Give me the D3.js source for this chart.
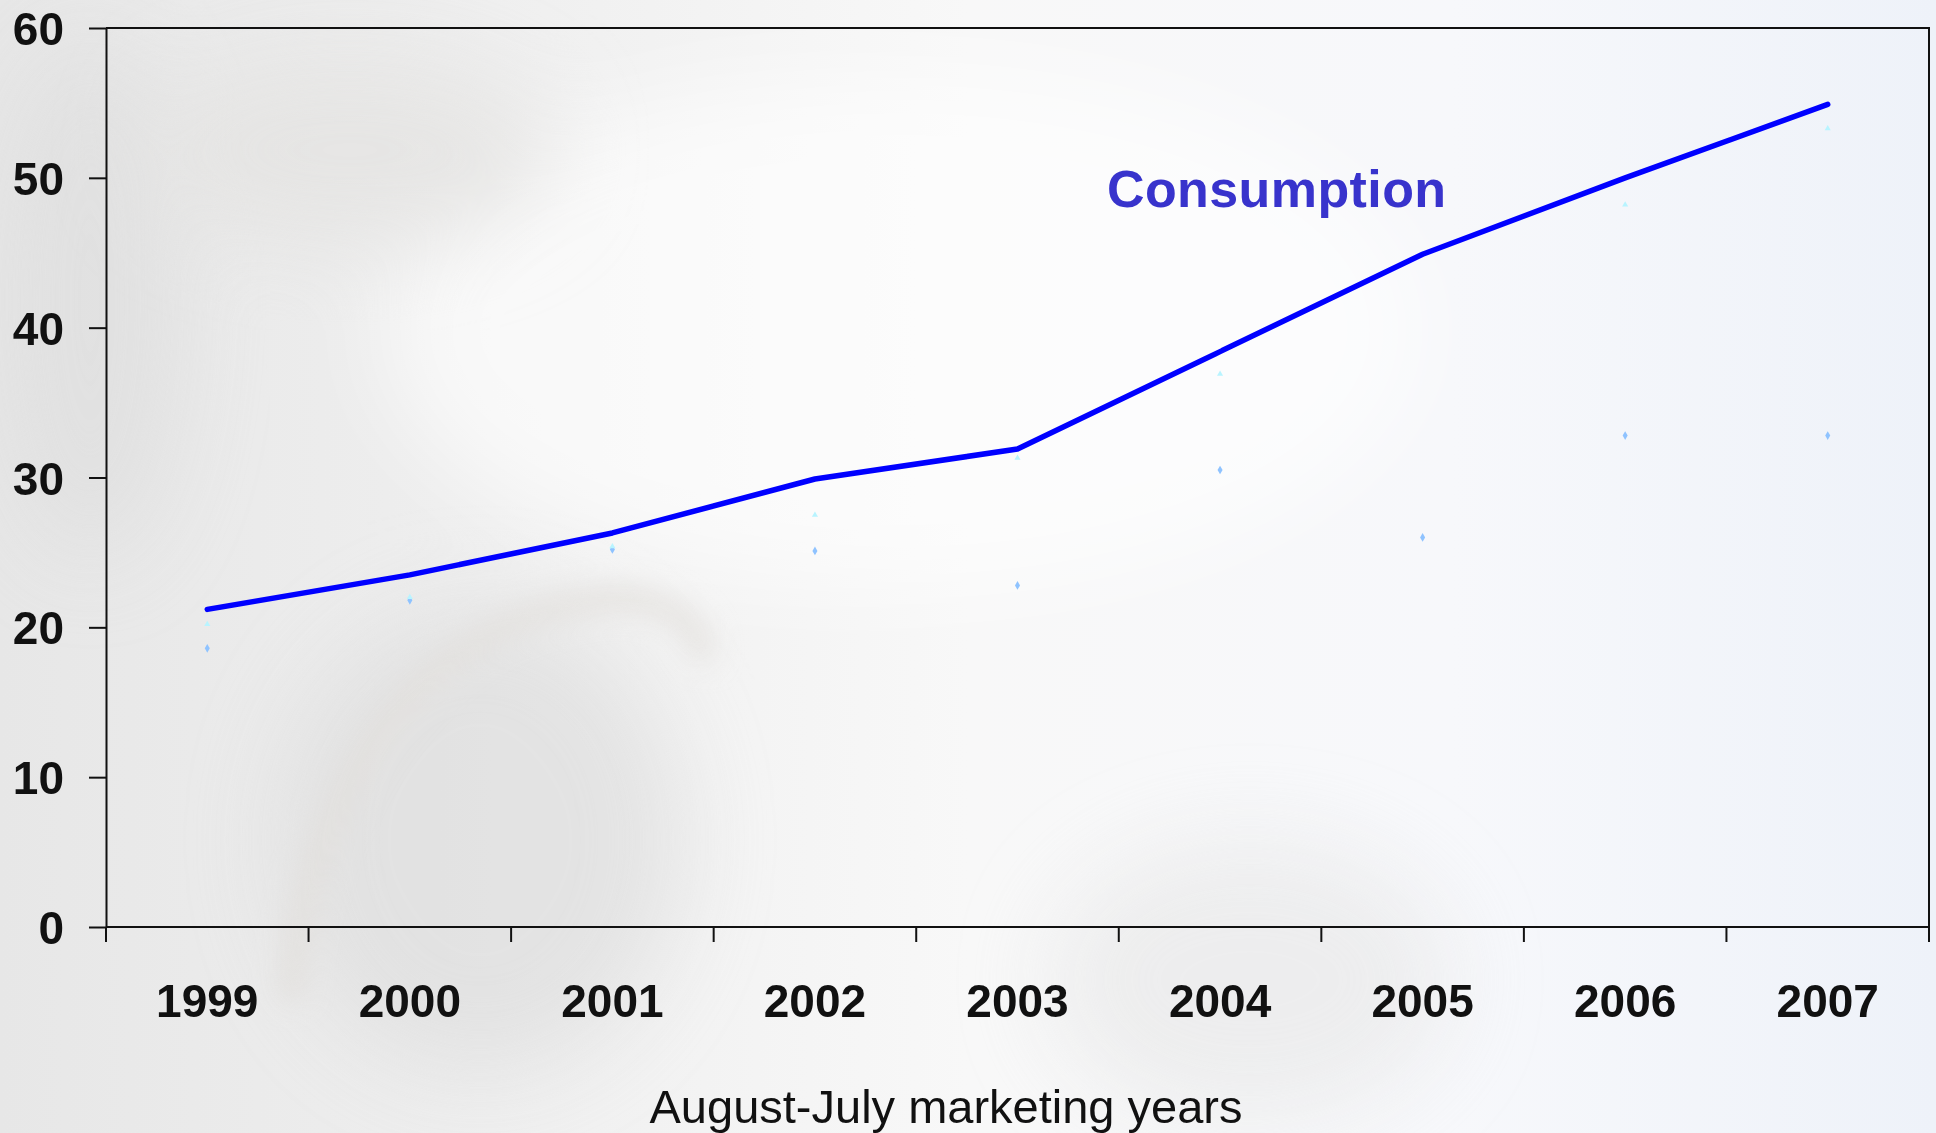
<!DOCTYPE html>
<html>
<head>
<meta charset="utf-8">
<script src="https://cdn.jsdelivr.net/npm/d3@7"></script>
<style>
    body { margin: 0; padding: 0; overflow: hidden; }
    text { font-family: "Liberation Sans", Arial, sans-serif; }
</style>
</head>
<body>
<div id="main"></div>
<script>
const years = ["1999", "2000", "2001", "2002", "2003", "2004", "2005", "2006", "2007"];
// million bales
const consumption = [21.2, 23.5, 26.3, 29.9, 31.9, 38.4, 44.9, 50.0, 54.9];
// faint marker-only series
const diamondSeries = [18.6, 21.8, 25.2, 25.1, 22.8, 30.5, 26.0, 32.8, 32.8];
const triangleSeries = [20.2, 22.0, 25.4, 27.5, 31.3, 36.9, 44.9, 48.2, 53.3];
const yTicks = [0, 10, 20, 30, 40, 50, 60];

const ctx = {
    w: 1936,
    h: 1133,
    left: 106,
    right: 1929,
    top: 28,
    bottom: 927,
    LINE_COLOR: "#0000ff",
    LABEL_COLOR: "#3833cc",
};

function drawBackground(svgEl) {
    let defs = svgEl.append("defs");
    let grad = defs.append("linearGradient")
        .attr("id", "bgGrad")
        .attr("x1", 0).attr("x2", 1).attr("y1", 0).attr("y2", 0);
    grad.append("stop").attr("offset", 0).attr("stop-color", "#e7e7e7");
    grad.append("stop").attr("offset", 0.2).attr("stop-color", "#ededed");
    grad.append("stop").attr("offset", 0.5).attr("stop-color", "#f8f8f8");
    grad.append("stop").attr("offset", 0.75).attr("stop-color", "#f7f8fb");
    grad.append("stop").attr("offset", 1).attr("stop-color", "#eef2f9");
    defs.append("filter").attr("id", "blur")
        .attr("x", "-50%").attr("y", "-50%").attr("width", "200%").attr("height", "200%")
        .append("feGaussianBlur").attr("stdDeviation", 45);
    defs.append("filter").attr("id", "blurSmall")
        .attr("x", "-50%").attr("y", "-50%").attr("width", "200%").attr("height", "200%")
        .append("feGaussianBlur").attr("stdDeviation", 14);

    svgEl.append("rect")
        .attr("width", ctx.w).attr("height", ctx.h)
        .attr("fill", "url(#bgGrad)");

    // faded photo shapes behind the chart
    let bg = svgEl.append("g").attr("id", "photo").attr("opacity", 0.6);
    bg.append("ellipse")
        .attr("cx", 900).attr("cy", 330).attr("rx", 520).attr("ry", 260)
        .attr("fill", "#ffffff").attr("filter", "url(#blur)");
    bg.append("ellipse")
        .attr("cx", 480).attr("cy", 840).attr("rx", 200).attr("ry", 230)
        .attr("fill", "#dadada").attr("filter", "url(#blur)");
    bg.append("ellipse")
        .attr("cx", 90).attr("cy", 300).attr("rx", 90).attr("ry", 260)
        .attr("fill", "#dcdcdc").attr("filter", "url(#blur)");
    bg.append("ellipse")
        .attr("cx", 350).attr("cy", 150).attr("rx", 200).attr("ry", 90)
        .attr("fill", "#e2e1df").attr("filter", "url(#blur)");
    bg.append("ellipse")
        .attr("cx", 1250).attr("cy", 980).attr("rx", 200).attr("ry", 140)
        .attr("fill", "#e6e6e6").attr("filter", "url(#blur)");
    bg.append("path")
        .attr("d", "M290,1000 C310,770 430,620 600,600 C680,592 710,640 700,660")
        .attr("fill", "none").attr("stroke", "#dcd8d3").attr("stroke-width", 22)
        .attr("filter", "url(#blurSmall)");
}

function createChart(svgEl) {
    let x = d3.scaleBand().domain(years).range([ctx.left, ctx.right]);
    let y = d3.scaleLinear().domain([0, 60]).range([ctx.bottom, ctx.top]);
    let cx = (d) => x(d) + x.bandwidth() / 2;

    // plot frame (top and right)
    svgEl.append("path")
        .attr("d", `M${ctx.left},${ctx.top}H${ctx.right}V${ctx.bottom}`)
        .attr("fill", "none")
        .attr("stroke", "#111")
        .attr("stroke-width", 2);

    // y axis
    let yAxis = svgEl.append("g")
        .attr("transform", `translate(${ctx.left},0)`)
        .call(d3.axisLeft(y).tickValues(yTicks).tickSize(17).tickSizeOuter(0).tickPadding(25));
    yAxis.select(".domain").attr("stroke", "#111").attr("stroke-width", 2);
    yAxis.selectAll(".tick line").attr("stroke", "#111").attr("stroke-width", 2);
    yAxis.selectAll(".tick text")
        .attr("font-size", 46)
        .attr("font-weight", "bold")
        .attr("font-family", "'Liberation Sans', Arial, sans-serif")
        .attr("fill", "#111")
        .attr("dy", "0.36em");

    // x axis: labels centred on the bands, ticks on band edges
    let xAxis = svgEl.append("g")
        .attr("transform", `translate(0,${ctx.bottom})`)
        .call(d3.axisBottom(x).tickSize(0));
    xAxis.select(".domain").remove();
    xAxis.selectAll(".tick text")
        .attr("font-size", 46)
        .attr("font-weight", "bold")
        .attr("font-family", "'Liberation Sans', Arial, sans-serif")
        .attr("fill", "#111")
        .attr("dy", 0)
        .attr("y", 90);
    svgEl.append("line")
        .attr("x1", ctx.left).attr("x2", ctx.right)
        .attr("y1", ctx.bottom).attr("y2", ctx.bottom)
        .attr("stroke", "#111").attr("stroke-width", 2);
    let edges = years.map((d) => x(d)).concat([ctx.right]);
    svgEl.append("g").selectAll("line")
        .data(edges)
        .enter()
        .append("line")
        .attr("x1", (d) => d).attr("x2", (d) => d)
        .attr("y1", ctx.bottom).attr("y2", ctx.bottom + 15)
        .attr("stroke", "#111").attr("stroke-width", 2);

    // faint marker-only series
    svgEl.append("g").selectAll("path")
        .data(diamondSeries)
        .enter()
        .append("path")
        .attr("d", d3.symbol(d3.symbolDiamond, 22))
        .attr("transform", (d, i) => `translate(${cx(years[i])},${y(d)})`)
        .attr("fill", "#8fc3ff");
    svgEl.append("g").selectAll("path")
        .data(triangleSeries)
        .enter()
        .append("path")
        .attr("d", d3.symbol(d3.symbolTriangle, 16))
        .attr("transform", (d, i) => `translate(${cx(years[i])},${y(d)})`)
        .attr("fill", "#b8f4ff");

    // consumption line
    let line = d3.line()
        .x((d, i) => cx(years[i]))
        .y((d) => y(d));
    svgEl.append("path")
        .datum(consumption)
        .attr("d", line)
        .attr("fill", "none")
        .attr("stroke", ctx.LINE_COLOR)
        .attr("stroke-width", 5.5)
        .attr("stroke-linecap", "round")
        .attr("stroke-linejoin", "round");

    svgEl.append("text")
        .attr("x", 1107)
        .attr("y", 207)
        .attr("font-size", 52)
        .attr("font-weight", "bold")
        .attr("letter-spacing", 0.4)
        .attr("fill", ctx.LABEL_COLOR)
        .text("Consumption");

    svgEl.append("text")
        .attr("x", 946)
        .attr("y", 1123)
        .attr("text-anchor", "middle")
        .attr("font-size", 47)
        .attr("fill", "#111")
        .text("August-July marketing years");
}

function createViz() {
    let svgEl = d3.select("#main").append("svg")
        .attr("width", ctx.w)
        .attr("height", ctx.h);
    drawBackground(svgEl);
    createChart(svgEl);
}

createViz();
</script>
</body>
</html>
